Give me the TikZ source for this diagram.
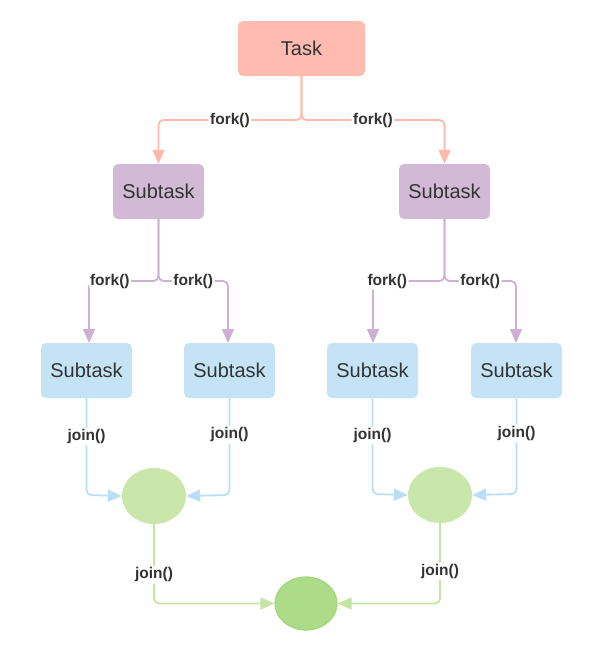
\documentclass[tikz,border=0pt]{standalone}
\usepackage{fontspec}
\setmainfont{Liberation Sans}
\usetikzlibrary{arrows.meta,shapes.geometric}
\definecolor{taskfill}{HTML}{FFBBB0}
\definecolor{taskline}{HTML}{FFB9AB}
\definecolor{purfill}{HTML}{D2BAD6}
\definecolor{purline}{HTML}{CFB0D5}
\definecolor{bluefill}{HTML}{C4E4F6}
\definecolor{blueline}{HTML}{B9DEF5}
\definecolor{grnfill}{HTML}{C9E7AB}
\definecolor{grnline}{HTML}{C5E5A5}
\definecolor{grndark}{HTML}{ADDC89}
\definecolor{grndarkline}{HTML}{A3D57D}
\definecolor{txt}{HTML}{333333}
\tikzset{
  x=1pt, y=-1pt,
  box/.style={rounded corners=5pt, minimum height=55pt, inner sep=0pt, text=txt, font=\fontsize{20}{22}\selectfont},
  taskbox/.style={box, fill=taskfill, minimum width=127pt},
  purbox/.style={box, fill=purfill, minimum width=91pt},
  bluebox/.style={box, fill=bluefill, minimum width=91pt},
  ell/.style={ellipse, minimum width=64pt, minimum height=56pt, inner sep=0pt},
  conn/.style={line width=1.8pt, rounded corners=5pt, -{Triangle[length=14pt,width=12pt]}},
  lbl/.style={fill=white, inner sep=1.5pt, text=txt, font=\fontsize{15.5}{18}\selectfont\bfseries},
}
\begin{document}
\begin{tikzpicture}
\useasboundingbox (0,0) rectangle (600,653);
% nodes
\node[taskbox] (task) at (301.5,48.5) {Task};
\node[purbox] (s1) at (158.5,191.5) {Subtask};
\node[purbox] (s2) at (444.5,191.5) {Subtask};
\node[bluebox] (b1) at (86.5,370.5) {Subtask};
\node[bluebox] (b2) at (229.5,370.5) {Subtask};
\node[bluebox] (b3) at (372.5,370.5) {Subtask};
\node[bluebox] (b4) at (516.5,370.5) {Subtask};
\node[ell, fill=grnfill] (e1) at (154,496) {};
\node[ell, fill=grnfill] (e2) at (440,495) {};
\node[ell, fill=grndark, draw=grndarkline, line width=1.2pt, minimum width=62pt, minimum height=53pt] (e3) at (306,603.5) {};
% fork from task
\coordinate (t1) at (301.5,120);
\draw[conn, draw=taskline] (task.south) -- (t1) -- node[lbl, pos=0.5]{fork()} (158.5,120) -- (s1.north);
\draw[conn, draw=taskline] (task.south) -- (t1) -- node[lbl, pos=0.5]{fork()} (444.5,120) -- (s2.north);
% fork from s1
\draw[conn, draw=purline] (s1.south) -- (158.5,281) -- node[lbl, pos=0.7]{fork()} (89,281) -- (89,343);
\draw[conn, draw=purline] (s1.south) -- (158.5,281) -- node[lbl, pos=0.5]{fork()} (228,281) -- (228,343);
% fork from s2
\draw[conn, draw=purline] (s2.south) -- (444.5,281) -- node[lbl, pos=0.8]{fork()} (373,281) -- (373,343);
\draw[conn, draw=purline] (s2.south) -- (444.5,281) -- node[lbl, pos=0.5]{fork()} (516,281) -- (516,343);
% joins
\draw[conn, draw=blueline] (b1.south) -- node[lbl, pos=0.4]{join()} (86.5,495) -- (e1.west);
\draw[conn, draw=blueline] (b2.south) -- node[lbl, pos=0.38]{join()} (229.5,495) -- (e1.east);
\draw[conn, draw=blueline] (b3.south) -- node[lbl, pos=0.39]{join()} (372.5,494) -- (e2.west);
\draw[conn, draw=blueline] (b4.south) -- node[lbl, pos=0.37]{join()} (516.5,494) -- (e2.east);
\draw[conn, draw=grnline] (e1.south) -- node[lbl, pos=0.64]{join()} (154,603.5) -- (e3.west);
\draw[conn, draw=grnline] (e2.south) -- node[lbl, pos=0.6]{join()} (440,603.5) -- (e3.east);
\end{tikzpicture}
\end{document}
